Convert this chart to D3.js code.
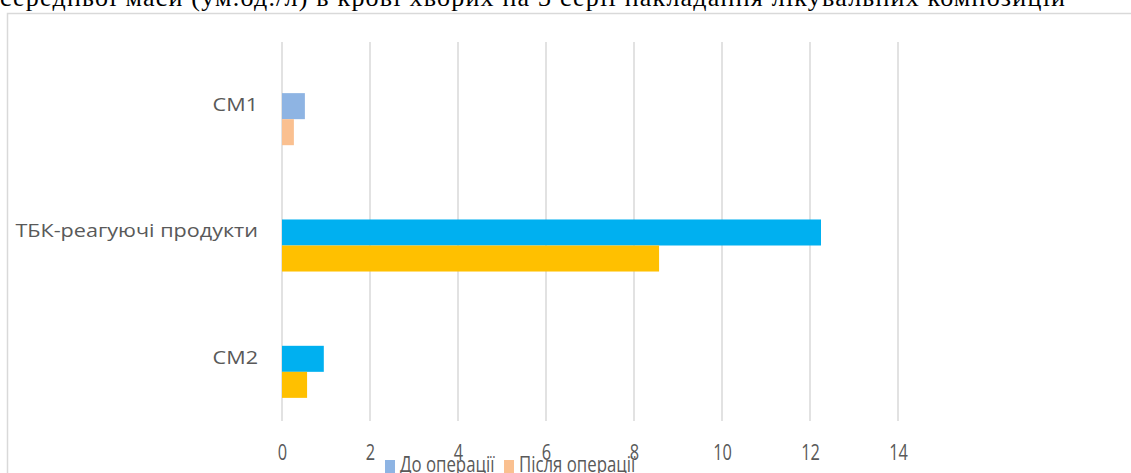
<!DOCTYPE html>
<html>
<head>
<meta charset="utf-8">
<script src="https://cdn.jsdelivr.net/npm/d3@7"></script>
<style>
  html, body { margin: 0; padding: 0; background: #fff; overflow: hidden; }
  svg { display: block; }
</style>
</head>
<body>
<svg id="chart" width="1131" height="473"></svg>
<script>
// Categories top to bottom
const categories = ["СМ1", "ТБК-реагуючі продукти", "СМ2"];
const seriesNames = ["До операції", "Після операції"];
const beforeValues = [0.52, 12.25, 0.95];
const afterValues = [0.27, 8.57, 0.57];
const xTicks = [0, 2, 4, 6, 8, 10, 12, 14];
const titleText = "середньої маси (ум.од./л) в крові хворих на 3 серії накладання лікувальних композицій";

// Series colours (legend) and per-category overrides
const seriesColors = ["#8EB4E3", "#FAC090"];
const pointColors = [
  ["#8EB4E3", "#00B0F0", "#00B0F0"],
  ["#FAC090", "#FFC000", "#FFC000"]
];

const svg = d3.select("#chart");
const font = "'Open Sans', 'Liberation Sans', sans-serif";
const textColor = "#595959";

// Title line of the surrounding document
svg.append("text")
  .attr("x", 0).attr("y", 6)
  .attr("font-family", "'Liberation Serif', 'Times New Roman', serif")
  .attr("font-size", 26)
  .attr("fill", "#000")
  .attr("textLength", 1065)
  .attr("lengthAdjust", "spacing")
  .text(titleText);

// Chart frame
svg.append("rect")
  .attr("x", 7.5).attr("y", 13.5)
  .attr("width", 1200).attr("height", 600)
  .attr("fill", "#fff")
  .attr("stroke", "#D9D9D9").attr("stroke-width", 1.5);

const x = d3.scaleLinear().domain([0, 14]).range([282, 898]);
const gridTop = 42, gridBottom = 421;

const yBand = d3.scaleBand().domain(categories).range([56, 435]).paddingInner(0.588).paddingOuter(0.294);
const ySub = d3.scaleBand().domain([0, 1]).range([0, yBand.bandwidth()]);

// Vertical gridlines
svg.append("g").selectAll("line")
  .data(xTicks).join("line")
  .attr("x1", d => x(d)).attr("x2", d => x(d))
  .attr("y1", gridTop).attr("y2", gridBottom)
  .attr("stroke", "#D9D9D9").attr("stroke-width", 1.5);

// Bars
const data = [beforeValues, afterValues];
data.forEach((vals, s) => {
  svg.append("g").selectAll("rect")
    .data(vals).join("rect")
    .attr("x", x(0))
    .attr("y", (d, i) => yBand(categories[i]) + ySub(s))
    .attr("width", d => x(d) - x(0))
    .attr("height", ySub.bandwidth())
    .attr("fill", (d, i) => pointColors[s][i]);
});

// Axis tick labels (bottom), tall narrow glyphs
const xAxis = d3.axisBottom(x).tickValues(xTicks).tickSize(0).tickPadding(0);
const gx = svg.append("g").attr("transform", "translate(0,460)").call(xAxis);
gx.select(".domain").remove();
gx.selectAll("text")
  .attr("dy", 0)
  .attr("transform", "scale(0.78,1)")
  .attr("font-family", font).attr("font-size", 21)
  .attr("fill", textColor);

// Category labels (left)
const yAxis = d3.axisLeft(yBand).tickSize(0).tickPadding(0);
const gy = svg.append("g").attr("transform", "translate(258,-14)").call(yAxis);
gy.select(".domain").remove();
gy.selectAll("text")
  .attr("transform", "scale(1.2,1)")
  .attr("font-family", font).attr("font-size", 18)
  .attr("fill", textColor);

// Legend
const legendX = [385, 504];
const legend = svg.append("g").selectAll("g")
  .data(seriesNames).join("g")
  .attr("transform", (d, i) => `translate(${legendX[i]},460)`);
legend.append("rect")
  .attr("width", 10).attr("height", 13)
  .attr("fill", (d, i) => seriesColors[i]);
legend.append("text")
  .attr("transform", "translate(15,12) scale(0.8,1)")
  .attr("font-family", font).attr("font-size", 21)
  .attr("fill", textColor)
  .text(d => d);
</script>
</body>
</html>
